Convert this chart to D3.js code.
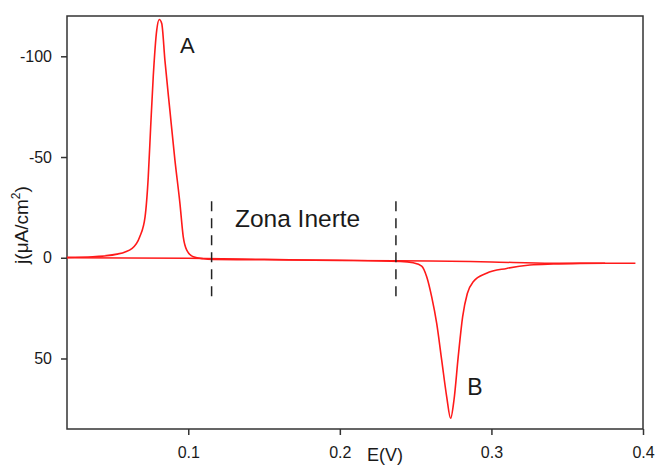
<!DOCTYPE html>
<html>
<head>
<meta charset="utf-8">
<script src="https://cdn.jsdelivr.net/npm/d3@7"></script>
<style>
    body { margin: 0; background: #fff; }
    text { font-family: "Liberation Sans", Arial, sans-serif; fill: #1a1a1a; }
</style>
</head>
<body>
<div id="chart"></div>
<script>
// barrido con los picos A y B: potencial (V) y densidad de corriente (uA/cm2)
const peakE = [0.020, 0.037, 0.053, 0.063, 0.068, 0.0715, 0.0736, 0.0752, 0.0769, 0.0792, 0.0809, 0.0825,
    0.0846, 0.0879, 0.0912, 0.0945, 0.0967, 0.099, 0.1033, 0.110, 0.1165, 0.150, 0.200, 0.240,
    0.2484, 0.254, 0.2573, 0.2606, 0.2639, 0.2672, 0.2705, 0.2731, 0.2753, 0.2781, 0.281, 0.2841,
    0.288, 0.2968, 0.310, 0.3254, 0.3408, 0.3584, 0.375]
const peakJ = [-0.2, -0.5, -1.8, -4.7, -10.4, -20.3, -40, -65, -90, -113, -118.3, -116.3,
    -98, -73, -48.5, -27, -10.4, -3.8, -0.5, 0.5, 0.8, 1.0, 1.3, 1.8,
    2.5, 4.1, 9.4, 19.4, 32.6, 50.8, 69, 79.7, 70.6, 49.1, 29.3, 17.7,
    11.9, 7.7, 5.3, 3.6, 3.1, 2.8, 2.7]

// barrido sin picos (linea base)
const baseE = [0.020, 0.100, 0.150, 0.200, 0.260, 0.300, 0.340, 0.395]
const baseJ = [0.0, 0.3, 0.8, 1.3, 1.6, 2.1, 2.7, 2.7]

// limites de la zona inerte
const inertE = [0.1154, 0.237]
const inertJ = [-28, 21]

const xTicks = [0.1, 0.2, 0.3, 0.4]
const xTickLabels = ["0.1", "0.2", "0.3", "0.4"]
const yTicks = [-100, -50, 0, 50]
const yTickLabels = ["-100", "-50", "0", "50"]

const margin = {top: 16, right: 14, bottom: 37, left: 67};
const width = 657 - margin.left - margin.right;
const height = 466 - margin.top - margin.bottom;

const svg = d3.select("#chart").append("svg")
    .attr("width", 657)
    .attr("height", 466);

const g = svg.append("g")
    .attr("transform", `translate(${margin.left}, ${margin.top})`);

const x = d3.scaleLinear()
    .domain([0.02, 0.4])
    .range([0, width]);

const y = d3.scaleLinear()
    .domain([-120, 85])
    .range([0, height]);

// ejes
let xAxis = g.append("g")
    .attr("transform", `translate(0, ${height})`)
    .call(d3.axisBottom(x).tickValues(xTicks)
        .tickFormat((d, i) => xTickLabels[i])
        .tickSizeInner(6).tickSizeOuter(0).tickPadding(12));

let yAxis = g.append("g")
    .call(d3.axisLeft(y).tickValues(yTicks)
        .tickFormat((d, i) => yTickLabels[i])
        .tickSizeInner(6).tickSizeOuter(0).tickPadding(9));

[xAxis, yAxis].forEach(function (a) {
    a.select(".domain").remove();
    a.selectAll("line").attr("stroke", "#333").attr("stroke-width", 1.5);
    a.selectAll("text").attr("font-size", 16).attr("font-family", "Liberation Sans, Arial, sans-serif").attr("fill", "#1a1a1a");
});

// marco
g.append("rect")
    .attr("width", width)
    .attr("height", height)
    .attr("fill", "none")
    .attr("stroke", "#333")
    .attr("stroke-width", 1.5);

// curvas
const line = d3.line()
    .curve(d3.curveMonotoneX)
    .x(d => x(d[0]))
    .y(d => y(d[1]));

g.append("path")
    .datum(baseE.map((e, i) => [e, baseJ[i]]))
    .attr("fill", "none")
    .attr("stroke", "#ff1a1a")
    .attr("stroke-width", 1.5)
    .attr("d", line);

g.append("path")
    .datum(peakE.map((e, i) => [e, peakJ[i]]))
    .attr("fill", "none")
    .attr("stroke", "#ff1a1a")
    .attr("stroke-width", 1.6)
    .attr("d", line);

// lineas discontinuas
g.selectAll(".inert")
    .data(inertE)
    .enter().append("line")
    .attr("class", "inert")
    .attr("x1", d => x(d)).attr("x2", d => x(d))
    .attr("y1", y(inertJ[0])).attr("y2", y(inertJ[1]))
    .attr("stroke", "#222")
    .attr("stroke-width", 1.5)
    .attr("stroke-dasharray", "10,7");

// etiquetas
g.append("text")
    .attr("x", x(0.1308))
    .attr("y", y(-15.4))
    .attr("font-size", 24.5)
    .text("Zona Inerte");

g.append("text")
    .attr("x", x(0.0945))
    .attr("y", y(-101.5))
    .attr("font-size", 22)
    .text("A");

g.append("text")
    .attr("x", x(0.2841))
    .attr("y", y(68))
    .attr("font-size", 23)
    .text("B");

svg.append("text")
    .attr("x", 385)
    .attr("y", 461)
    .attr("text-anchor", "middle")
    .attr("font-size", 18)
    .text("E(V)");

const yLabel = svg.append("text")
    .attr("transform", "translate(28, 225) rotate(-90)")
    .attr("text-anchor", "middle")
    .attr("font-size", 19);
yLabel.append("tspan").text("j(\u03BCA/cm");
yLabel.append("tspan").attr("font-size", 12).attr("dy", -8).text("2");
yLabel.append("tspan").attr("dy", 8).text(")");
</script>
</body>
</html>
